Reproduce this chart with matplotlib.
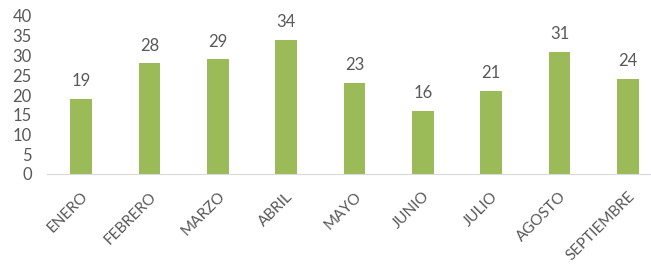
import matplotlib.pyplot as plt

# Data
meses = ['ENERO', 'FEBRERO', 'MARZO', 'ABRIL', 'MAYO', 'JUNIO', 'JULIO', 'AGOSTO', 'SEPTIEMBRE']
valores = [19, 28, 29, 34, 23, 16, 21, 31, 24]

plt.rcParams['font.family'] = ['Lato', 'DejaVu Sans']
texto = '#595959'

fig = plt.figure(figsize=(6.51, 2.65), dpi=100)
ax = fig.add_axes([47 / 651, 1 - 174 / 265, 1 - 47 / 651, 158 / 265])

x = range(len(meses))
bars = ax.bar(x, valores, width=0.32, color='#9BBB59')

# value labels above each bar
for b, v in zip(bars, valores):
    ax.annotate(str(v), (b.get_x() + b.get_width() / 2, v), xytext=(0, 7),
                textcoords='offset points', ha='center', va='bottom',
                fontsize=12, color=texto)

ax.set_xlim(-0.5, 8.34)
ax.set_ylim(0, 40)
ax.set_yticks(range(0, 41, 5))
ax.set_xticks(list(x))
ax.set_xticklabels(meses, rotation=45, ha='right', rotation_mode='anchor')

ax.tick_params(axis='y', length=0, labelsize=12, colors=texto, pad=11)
ax.tick_params(axis='x', length=0, labelsize=11, colors=texto, pad=11)

for s in ['top', 'right', 'left']:
    ax.spines[s].set_visible(False)
ax.spines['bottom'].set_color('#D9D9D9')

fig.savefig('out.png', dpi=100)
